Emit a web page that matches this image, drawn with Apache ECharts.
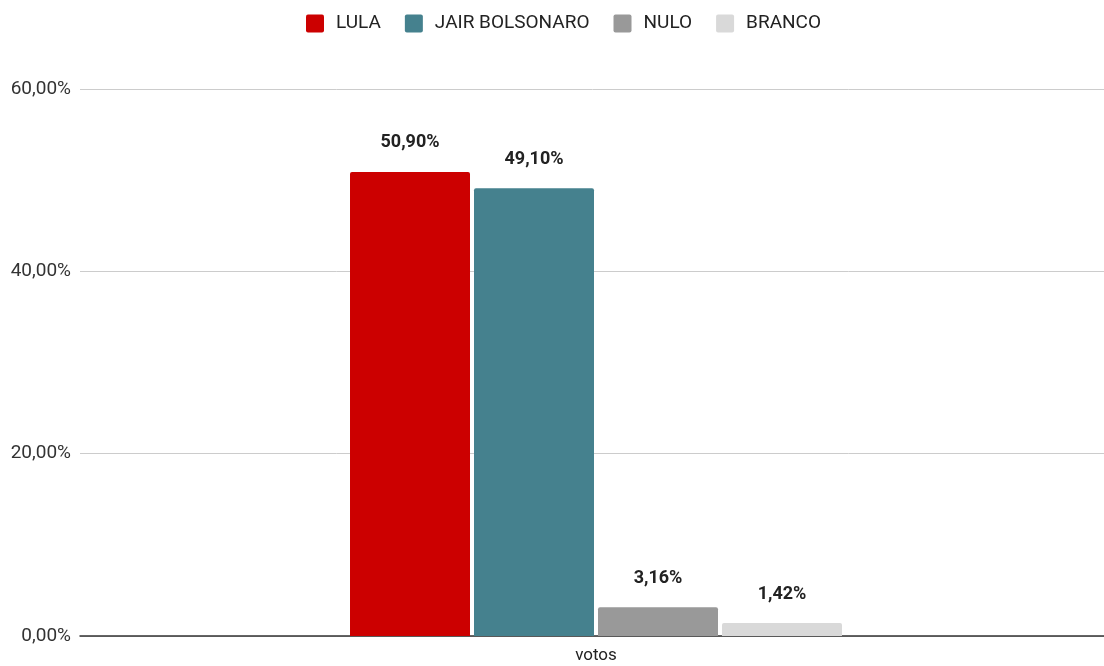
<!DOCTYPE html>
<html>
<head>
<meta charset="utf-8">
<script src="https://cdn.jsdelivr.net/npm/echarts@6/dist/echarts.min.js"></script>
<style>
  html, body { margin: 0; padding: 0; background: #fff; }
  #chart { width: 1104px; height: 666px; }
</style>
</head>
<body>
<div id="chart"></div>
<script>
var categories = ['votos'];
var seriesNames = ['LULA', 'JAIR BOLSONARO', 'NULO', 'BRANCO'];
var seriesColors = ['#cc0000', '#45818e', '#999999', '#d9d9d9'];
var lula = [50.90];
var bolsonaro = [49.10];
var nulo = [3.16];
var branco = [1.42];
var values = [lula, bolsonaro, nulo, branco];

function pct(v) {
	return v.toFixed(2).replace('.', ',') + '%';
}

var series = [];
for (var i = 0; i < seriesNames.length; i++) {
	series.push({
		name: seriesNames[i],
		type: 'bar',
		data: values[i],
		barWidth: 120,
		barGap: '3.33%',
		itemStyle: { color: seriesColors[i], borderRadius: [2, 2, 0, 0] },
		label: {
			show: true,
			position: 'top',
			distance: 20,
			fontFamily: 'Roboto',
			fontWeight: 'bold',
			fontSize: 18,
			color: '#222',
			formatter: function (p) { return pct(p.value); }
		}
	});
}

var myChart = echarts.init(document.getElementById('chart'));
myChart.setOption({
	animation: false,
	textStyle: { fontFamily: 'Roboto' },
	legend: {
		left: 301,
		top: 9,
		itemWidth: 18,
		itemHeight: 18,
		itemGap: 24,
		icon: 'path://M2,0 L16,0 Q18,0 18,2 L18,16 Q18,18 16,18 L2,18 Q0,18 0,16 L0,2 Q0,0 2,0 Z',
		textStyle: { fontSize: 19, color: '#222', padding: [0, 0, 0, 7] },
		data: seriesNames
	},
	grid: { left: 80, right: -8, top: 89, bottom: 30, containLabel: false, outerBoundsMode: 'none' },
	xAxis: {
		type: 'category',
		data: categories,
		axisLine: { lineStyle: { color: '#333', width: 1.5 } },
		axisTick: { show: false },
		axisLabel: { fontSize: 17, color: '#222', margin: 11 }
	},
	yAxis: {
		type: 'value',
		min: 0,
		max: 60,
		interval: 20,
		axisLine: { show: false },
		axisTick: { show: false },
		splitLine: { lineStyle: { color: '#cccccc' } },
		axisLabel: { fontSize: 19, color: '#333', margin: 9, formatter: pct }
	},
	series: series
});
</script>
</body>
</html>
